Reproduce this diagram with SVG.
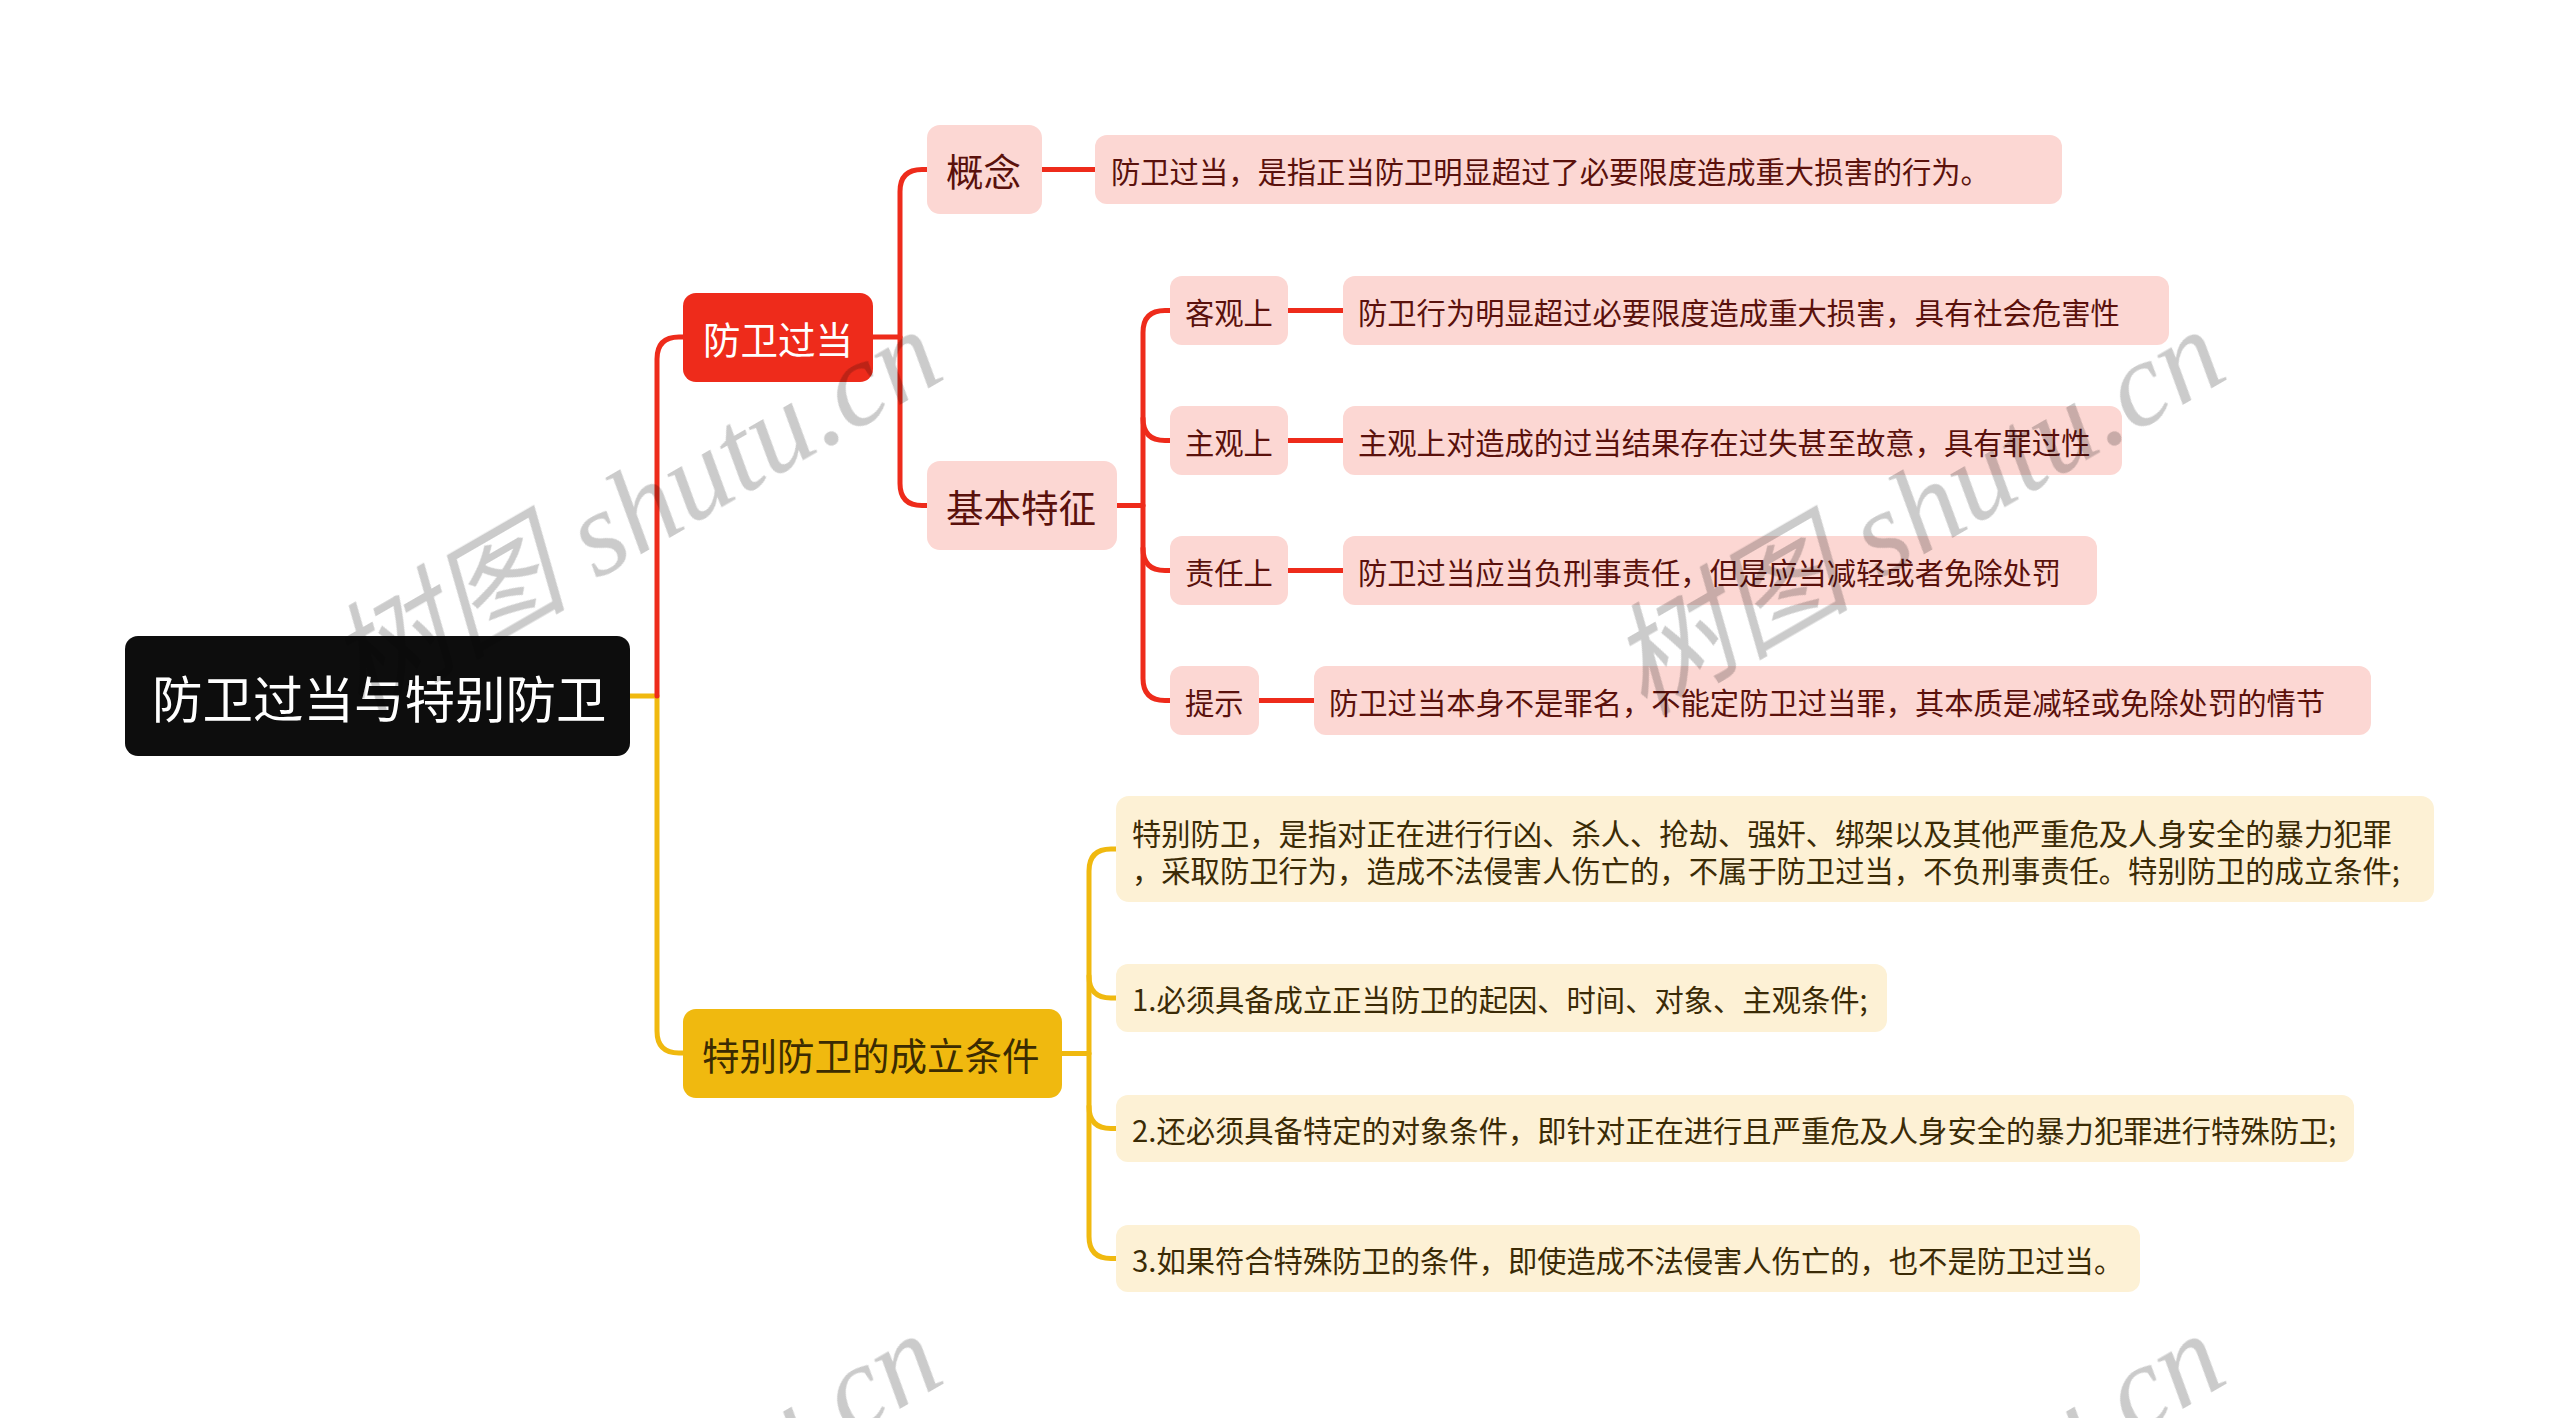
<svg xmlns="http://www.w3.org/2000/svg" width="2560" height="1418" viewBox="0 0 2560 1418">
<style>
text{font-family:"Noto Sans CJK SC","Liberation Sans",sans-serif;dominant-baseline:central}
.root rect{fill:#0d0d0d}
.root text{fill:#ffffff;font-size:50.5px}
.l1r rect{fill:#ee2b1b}
.l1r text{fill:#ffffff;font-size:37.5px}
.l1y rect{fill:#f0b90f}
.l1y text{fill:#3b2b02;font-size:37.5px}
.pk rect{fill:#fcd7d3}
.pk text{fill:#5a110c}
.yl rect{fill:#fdf1d5}
.yl text{fill:#3b2b06;font-size:29.3px}
.big{font-size:37.5px}
.sm{font-size:29.3px}
.cr{fill:none;stroke:#ee2b1b;stroke-width:5;stroke-linecap:round;stroke-linejoin:round}
.cy{fill:none;stroke:#f0b90f;stroke-width:5;stroke-linecap:round;stroke-linejoin:round}
.wmg{mix-blend-mode:multiply}
.wm{font-family:"Liberation Serif","Noto Sans CJK SC",serif;font-style:italic;font-size:121px;fill:#cbcbcb;text-anchor:middle}
</style>
<rect x="0" y="0" width="2560" height="1418" fill="#ffffff"/>
<g id="connectors">
<path class="cy" d="M630 696 H657 V1031 Q657 1053 679 1053 H685"/>
<path class="cr" d="M657 696 V359 Q657 337 679 337 H685"/>
<path class="cr" d="M873 337 H900"/>
<path class="cr" d="M929 169.5 H922 Q900 169.5 900 191.5 V483.5 Q900 505.5 922 505.5 H929"/>
<path class="cr" d="M1042 169.5 H1095"/>
<path class="cr" d="M1117 505.5 H1143"/>
<path class="cr" d="M1172 310.5 H1165 Q1143 310.5 1143 332.5 V678.5 Q1143 700.5 1165 700.5 H1172"/>
<path class="cr" d="M1143 418.5 Q1143 440.5 1165 440.5 H1172"/>
<path class="cr" d="M1143 548.5 Q1143 570.5 1165 570.5 H1172"/>
<path class="cr" d="M1288 310.5 H1343"/>
<path class="cr" d="M1288 440.5 H1343"/>
<path class="cr" d="M1288 570.5 H1343"/>
<path class="cr" d="M1259 700.5 H1314"/>
<path class="cy" d="M1062 1053.5 H1089"/>
<path class="cy" d="M1118 849 H1111 Q1089 849 1089 871 V1236.5 Q1089 1258.5 1111 1258.5 H1118"/>
<path class="cy" d="M1089 976 Q1089 998 1111 998 H1118"/>
<path class="cy" d="M1089 1106.5 Q1089 1128.5 1111 1128.5 H1118"/>
</g>
<g id="root" class="root"><rect x="125" y="636" width="505" height="120" rx="13"/><text x="152" y="696">防卫过当与特别防卫</text></g>
<g id="n-fwgd" class="l1r"><rect x="683" y="293" width="190" height="89" rx="13"/><text x="703" y="337.5">防卫过当</text></g>
<g id="n-tbfw" class="l1y"><rect x="683" y="1009" width="379" height="89" rx="13"/><text x="702" y="1053.5">特别防卫的成立条件</text></g>
<g id="n-gn" class="pk"><rect x="927" y="125" width="115" height="89" rx="13"/><text class="big" x="946" y="169.5">概念</text></g>
<g id="n-jbtz" class="pk"><rect x="927" y="461" width="190" height="89" rx="13"/><text class="big" x="946" y="505.5">基本特征</text></g>
<g id="n-gn-d" class="pk"><rect x="1095" y="135" width="967" height="69" rx="12"/><text class="sm" x="1111" y="169.5">防卫过当，是指正当防卫明显超过了必要限度造成重大损害的行为。</text></g>
<g id="n-kgs" class="pk"><rect x="1170" y="276" width="118" height="69" rx="12"/><text class="sm" x="1185" y="310.5">客观上</text></g>
<g id="n-kgs-d" class="pk"><rect x="1343" y="276" width="826" height="69" rx="12"/><text class="sm" x="1358" y="310.5">防卫行为明显超过必要限度造成重大损害，具有社会危害性</text></g>
<g id="n-zgs" class="pk"><rect x="1170" y="406" width="118" height="69" rx="12"/><text class="sm" x="1185" y="440.5">主观上</text></g>
<g id="n-zgs-d" class="pk"><rect x="1343" y="406" width="779" height="69" rx="12"/><text class="sm" x="1358" y="440.5">主观上对造成的过当结果存在过失甚至故意，具有罪过性</text></g>
<g id="n-zrs" class="pk"><rect x="1170" y="536" width="118" height="69" rx="12"/><text class="sm" x="1185" y="570.5">责任上</text></g>
<g id="n-zrs-d" class="pk"><rect x="1343" y="536" width="754" height="69" rx="12"/><text class="sm" x="1358" y="570.5">防卫过当应当负刑事责任，但是应当减轻或者免除处罚</text></g>
<g id="n-ts" class="pk"><rect x="1170" y="666" width="89" height="69" rx="12"/><text class="sm" x="1185" y="700.5">提示</text></g>
<g id="n-ts-d" class="pk"><rect x="1314" y="666" width="1057" height="69" rx="12"/><text class="sm" x="1329" y="700.5">防卫过当本身不是罪名，不能定防卫过当罪，其本质是减轻或免除处罚的情节</text></g>
<g id="n-y0" class="yl"><rect x="1116" y="796" width="1318" height="106" rx="13"/><text x="1132" y="832">特别防卫，是指对正在进行行凶、杀人、抢劫、强奸、绑架以及其他严重危及人身安全的暴力犯罪</text><text x="1132" y="869">，采取防卫行为，造成不法侵害人伤亡的，不属于防卫过当，不负刑事责任。特别防卫的成立条件;</text></g>
<g id="n-y1" class="yl"><rect x="1116" y="964" width="771" height="68" rx="12"/><text x="1132" y="998">1.必须具备成立正当防卫的起因、时间、对象、主观条件;</text></g>
<g id="n-y2" class="yl"><rect x="1116" y="1095" width="1238" height="67" rx="12"/><text x="1132" y="1128.5">2.还必须具备特定的对象条件，即针对正在进行且严重危及人身安全的暴力犯罪进行特殊防卫;</text></g>
<g id="n-y3" class="yl"><rect x="1116" y="1225" width="1024" height="67" rx="12"/><text x="1132" y="1258.5">3.如果符合特殊防卫的条件，即使造成不法侵害人伤亡的，也不是防卫过当。</text></g>
<g id="watermark" class="wmg">
<text class="wm" transform="translate(634 511) rotate(-30)">树图 shutu.cn</text>
<text class="wm" transform="translate(1917 511) rotate(-30)">树图 shutu.cn</text>
<text class="wm" transform="translate(634 1515) rotate(-30)">树图 shutu.cn</text>
<text class="wm" transform="translate(1917 1515) rotate(-30)">树图 shutu.cn</text>
</g>
</svg>
